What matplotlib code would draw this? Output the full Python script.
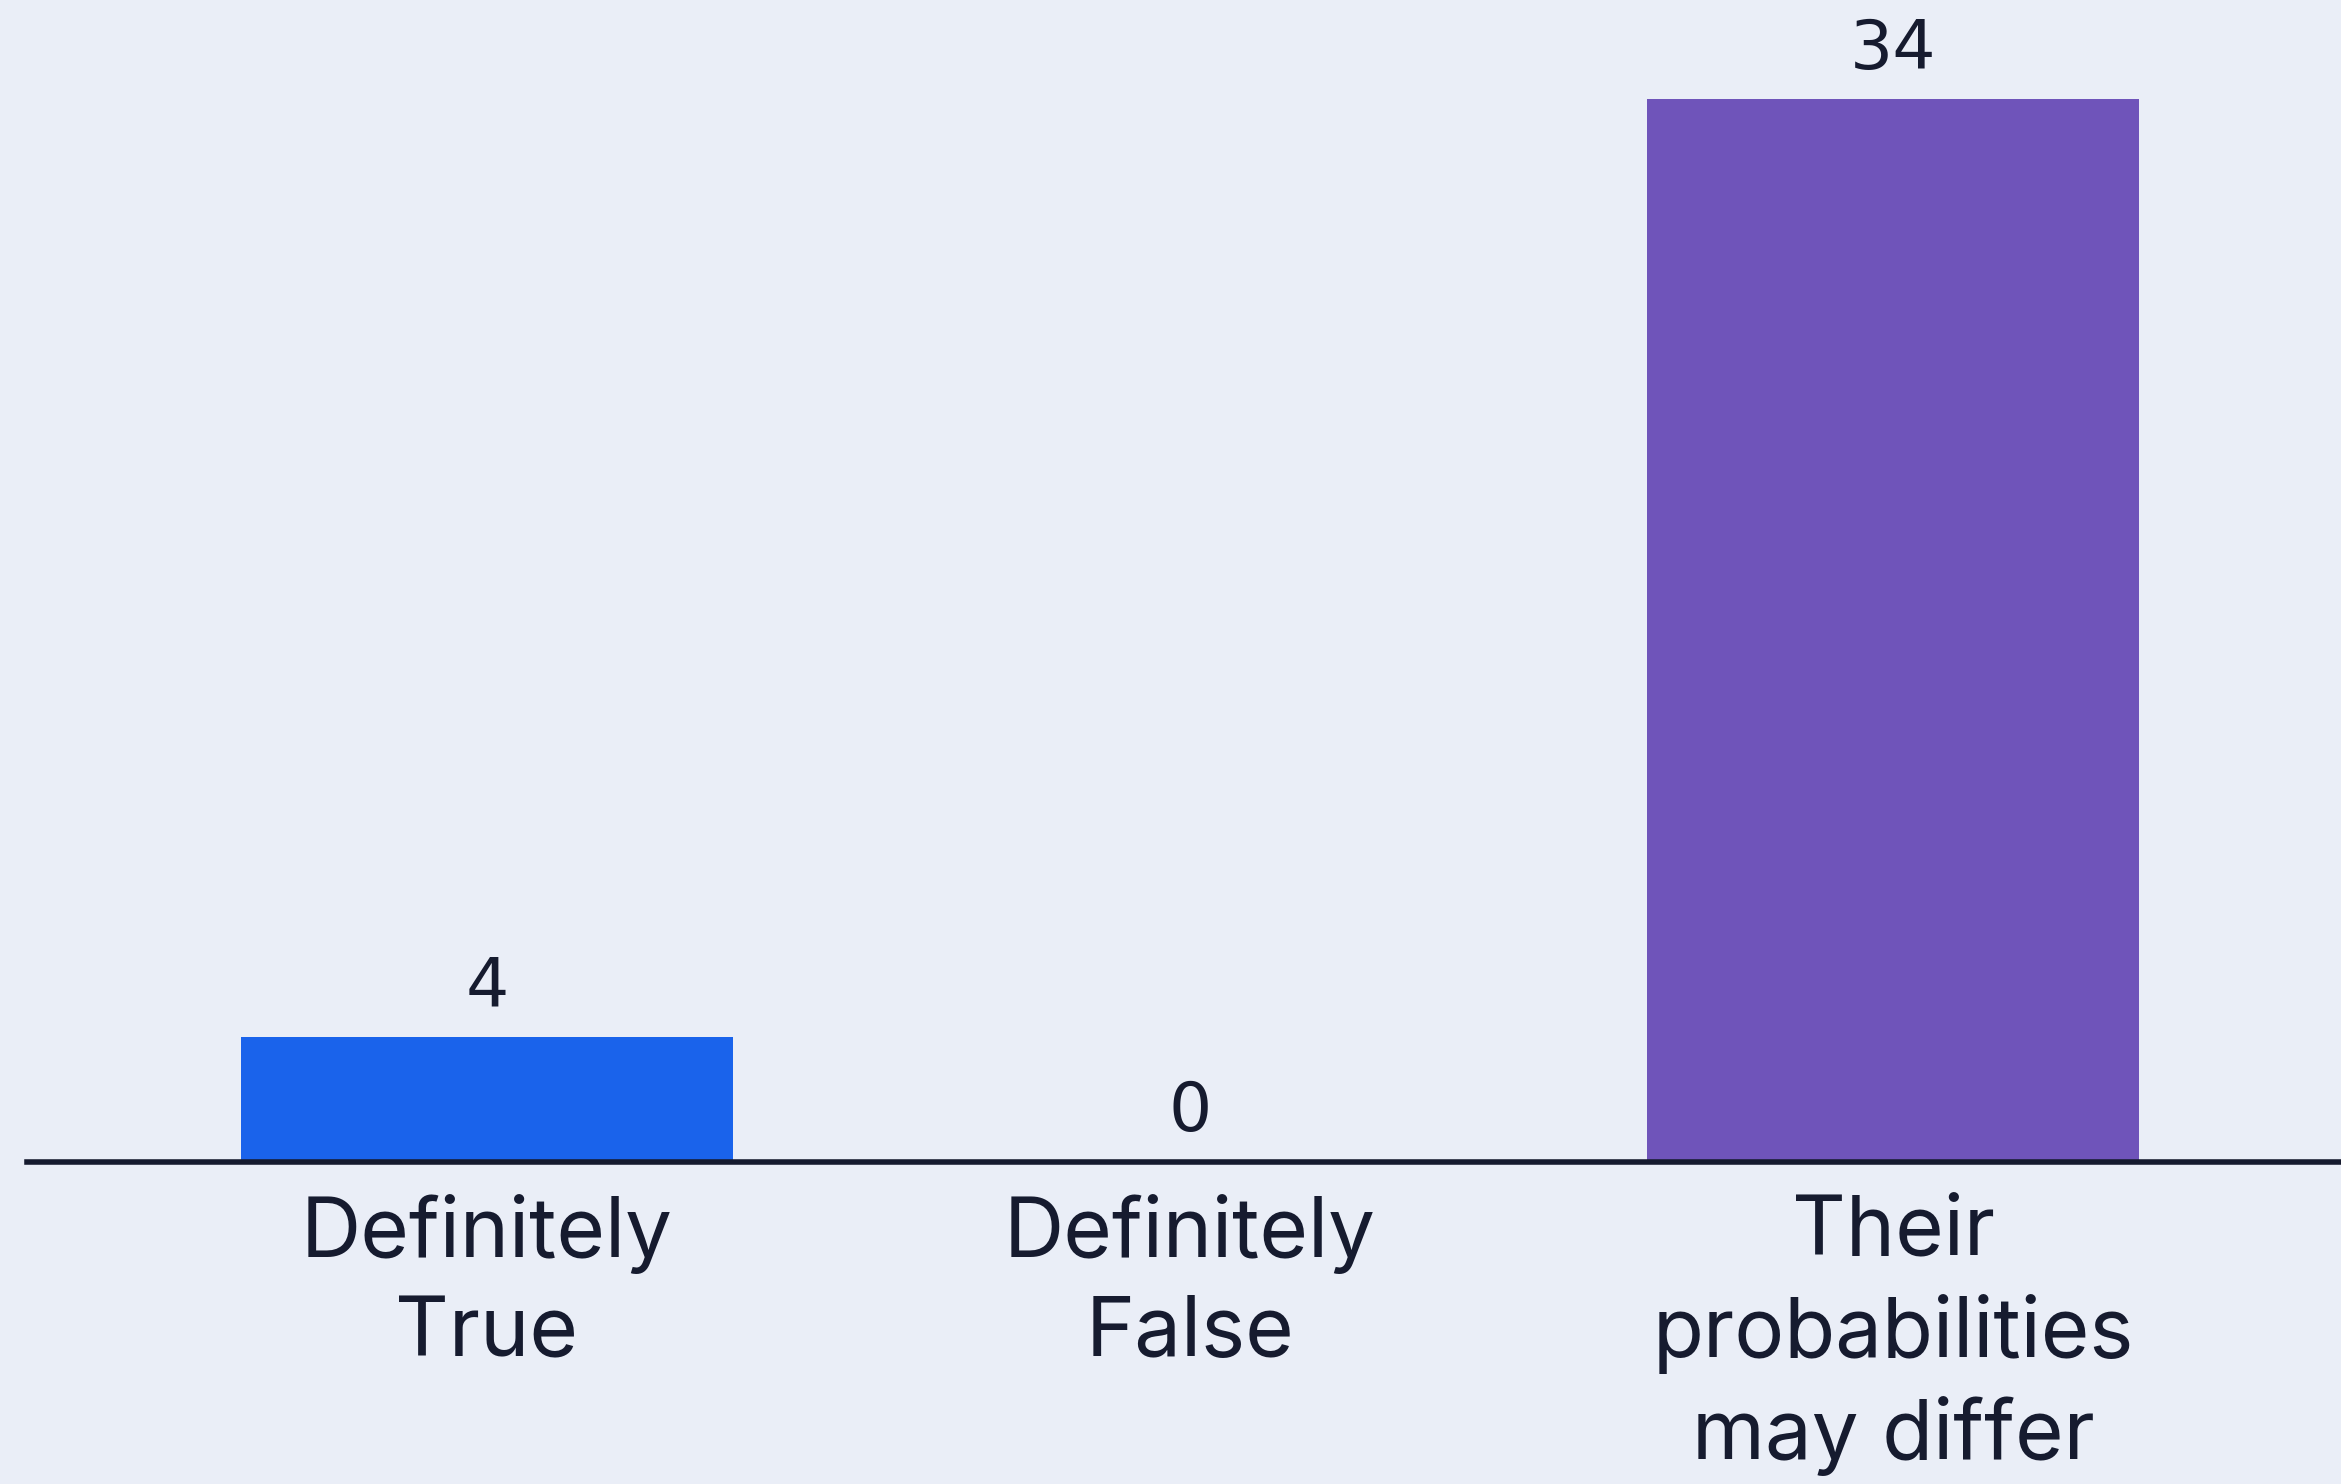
import matplotlib
matplotlib.use("Agg")
from matplotlib import pyplot as plt

categories = ["Definitely\nTrue", "Definitely\nFalse", "Their\nprobabilities\nmay differ"]
values = [4, 0, 34]
colors = ["#1a63eb", "#1a63eb", "#6f54ba"]

bg = "#eaeef7"
ink = "#161b2f"

plt.rcParams['font.family'] = ['Inter', 'DejaVu Sans']

W, H = 2341, 1484
fig = plt.figure(figsize=(W / 100, H / 100), dpi=100, facecolor=bg)
# axes placed in pixel terms: baseline at y=1162 from top, from x=27 to right edge
ax = fig.add_axes([27 / W, (H - 1162) / H, 1 - 27 / W, 1162 / H])
ax.set_facecolor(bg)

x = range(len(categories))
bars = ax.bar(x, values, width=0.70, color=colors, zorder=2)

ax.set_xlim(-0.654, 2.637)
ax.set_ylim(0, 37.17)

for rect, v in zip(bars, values):
    ax.annotate(str(v), (rect.get_x() + rect.get_width() / 2, rect.get_height()),
                xytext=(0, 22), textcoords="offset points", ha="center", va="baseline",
                fontsize=49, color=ink, family=['DejaVu Sans'])

ax.set_xticks(list(x))
ax.set_xticklabels(categories, fontsize=60, color=ink, linespacing=1.35)
ax.tick_params(axis="x", length=0, pad=23)
ax.set_yticks([])

for side in ["left", "right", "top"]:
    ax.spines[side].set_visible(False)
ax.spines["bottom"].set_linewidth(4)
ax.spines["bottom"].set_color(ink)
ax.spines["bottom"].set_zorder(3)

fig.savefig("out.png", dpi=100, facecolor=bg)
